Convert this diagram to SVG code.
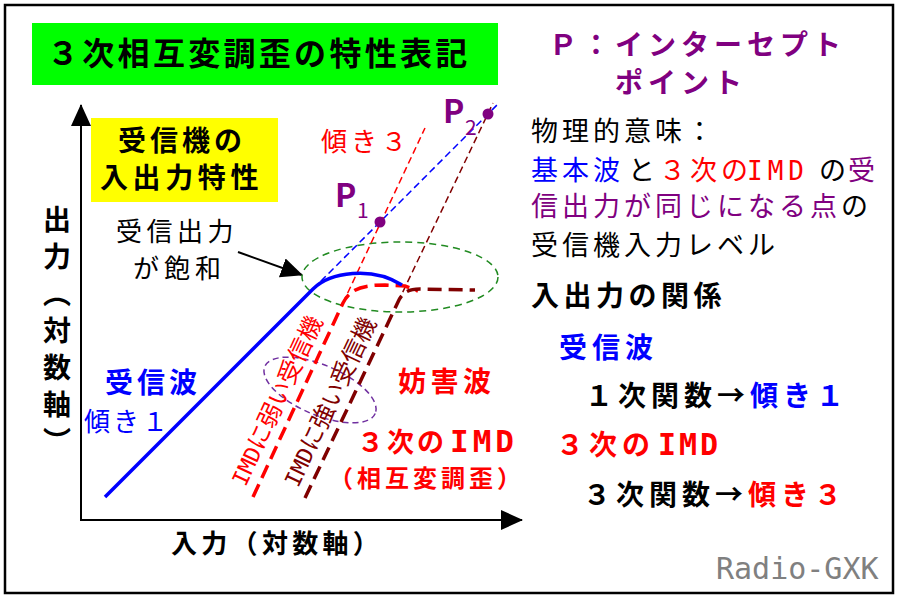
<svg xmlns="http://www.w3.org/2000/svg" width="900" height="600" viewBox="0 0 900 600">
<defs>
<marker id="ah" markerUnits="userSpaceOnUse" markerWidth="22" markerHeight="20" refX="21" refY="10" orient="auto"><path d="M0,0 L22,10 L0,20 Z" fill="#000"/></marker>
</defs>
<style>
text{font-family:"Noto Sans CJK JP","Noto Sans CJK SC",sans-serif;}
.b{font-weight:bold}
.m{font-family:"DejaVu Sans Mono",monospace}
.thin{fill:none;stroke-width:1.5;stroke-dasharray:7 4}
.thick{fill:none;stroke-width:3.5;stroke-dasharray:14 7}
.red{fill:#FF0000}
.blue{fill:#0000FF}
.pur{fill:#800080}
.mar{fill:#800000}
</style>
<rect x="5" y="5" width="888" height="588" fill="#FFFFFF" stroke="#000" stroke-width="2.5"/>

<g id="title">
<rect x="32" y="23" width="466" height="62" fill="#00FF00"/>
<text x="47" y="65" font-size="32" class="b" letter-spacing="3.3">３次相互変調歪の特性表記</text>
</g>

<g id="receiver-box">
<rect x="91" y="118" width="187" height="84" fill="#FFFF00"/>
<text x="118" y="151" font-size="28" class="b" letter-spacing="4">受信機の</text>
<text x="100" y="188" font-size="28" class="b" letter-spacing="4.6">入出力特性</text>
</g>

<g id="connectors">
<line x1="81" y1="521" x2="81" y2="105" stroke="#000" stroke-width="2" marker-end="url(#ah)"/>
<line x1="80" y1="520" x2="522" y2="520" stroke="#000" stroke-width="2" marker-end="url(#ah)"/>
<line x1="238" y1="252" x2="302" y2="275" stroke="#000" stroke-width="2" marker-end="url(#ah)"/>
</g>

<g id="y-axis-label">
<text x="57" y="205" font-size="28" class="b" writing-mode="vertical-rl" letter-spacing="9">出力（対数軸）</text>
</g>
<g id="x-axis-label">
<text x="171" y="553" font-size="26" class="b" letter-spacing="4.3">入力（対数軸）</text>
</g>

<g id="saturation-ellipse">
<ellipse cx="400" cy="277" rx="98" ry="35" fill="none" stroke="#228B22" stroke-width="1.5" stroke-dasharray="7 5"/>
</g>
<g id="imd-ellipse">
<ellipse cx="320" cy="390" rx="60" ry="25" transform="rotate(23 320 390)" fill="none" stroke="#7030A0" stroke-width="1.5" stroke-dasharray="6 4"/>
</g>

<g id="curves">
<path d="M313,289 L497,105" class="thin" stroke="#0000FF"/>
<path d="M343,303 L425,128" class="thin" stroke="#FF0000"/>
<path d="M398,302 L493,103" class="thin" stroke="#800000"/>
<path d="M253,497 L343,303 C350,289 362,285 385,285 L405,286 L418,291" class="thick" stroke="#FF0000"/>
<path d="M305,498 L398,302 C403,291 410,289 420,289 L475,290" class="thick" stroke="#800000"/>
<path d="M105,497 L313,289 C330,272 372,266 402,285" fill="none" stroke="#0000FF" stroke-width="3.5"/>
</g>

<g id="P1">
<circle cx="380" cy="222" r="5.5" fill="#800080"/>
<text x="335" y="207" font-size="32" class="b pur" font-family="Liberation Sans">P</text>
<text x="357" y="218" font-size="21" class="pur" font-family="Liberation Sans">1</text>
</g>
<g id="P2">
<circle cx="488" cy="114" r="5.5" fill="#800080"/>
<text x="443" y="123" font-size="32" class="b pur" font-family="Liberation Sans">P</text>
<text x="465" y="135" font-size="21" class="pur" font-family="Liberation Sans">2</text>
</g>

<g id="saturation-label">
<text x="116" y="241" font-size="26" letter-spacing="4.5">受信出力</text>
<text x="133" y="278" font-size="26" letter-spacing="5">が飽和</text>
</g>
<g id="slope3-label">
<text x="321" y="151" font-size="26" class="red" letter-spacing="4">傾き３</text>
</g>
<g id="signal-label">
<text x="105" y="393" font-size="28" class="b blue" letter-spacing="4">受信波</text>
<text x="84" y="431" font-size="26" class="blue" letter-spacing="3">傾き１</text>
</g>
<g id="interference-label">
<text x="398" y="392" font-size="28" class="b red" letter-spacing="4.5">妨害波</text>
<text x="357" y="452" font-size="27" class="b red" letter-spacing="3">３次の<tspan x="450" class="m" font-size="31" letter-spacing="4">IMD</tspan></text>
<text x="329" y="487" font-size="24" class="b red" letter-spacing="4">（相互変調歪）</text>
</g>
<g id="weak-label">
<text transform="translate(245.5,487.5) rotate(-65)" font-size="24" class="red"><tspan class="m" font-size="22">IMD</tspan>に弱い受信機</text>
</g>
<g id="strong-label">
<text transform="translate(298,488.5) rotate(-64.6)" font-size="24" class="mar"><tspan class="m" font-size="22">IMD</tspan>に強い受信機</text>
</g>

<g id="intercept-note">
<text x="549" y="55" font-size="28" class="b pur" letter-spacing="5">Ｐ：インターセプト</text>
<text x="615" y="93" font-size="28" class="b pur" letter-spacing="5">ポイント</text>
<text x="531" y="141" font-size="27" letter-spacing="4">物理的意味：</text>
<text y="180" font-size="27" letter-spacing="4"><tspan x="531" class="blue">基本波</tspan><tspan x="628">と</tspan><tspan x="659" class="red">３次の</tspan><tspan x="747" class="m red" font-size="26" letter-spacing="5">IMD</tspan><tspan x="809"> の</tspan><tspan x="848" class="pur">受</tspan></text>
<text x="531" y="216" font-size="27" letter-spacing="4"><tspan class="pur">信出力が同じになる点</tspan>の</text>
<text x="531" y="255" font-size="27" letter-spacing="4">受信機入力レベル</text>
</g>

<g id="relation-note">
<text x="531" y="306" font-size="28" class="b" letter-spacing="4.5">入出力の関係</text>
<text x="559" y="358" font-size="28" class="b blue" letter-spacing="5">受信波</text>
<text x="585" y="406" font-size="28" class="b" letter-spacing="5">１次関数→<tspan class="blue">傾き１</tspan></text>
<text x="556" y="455" font-size="28" class="b red" letter-spacing="5">３次の<tspan x="658" class="m" font-size="30" letter-spacing="3">IMD</tspan></text>
<text x="583" y="505" font-size="28" class="b" letter-spacing="5">３次関数→<tspan class="red">傾き３</tspan></text>
</g>

<g id="credit">
<text x="716" y="579" font-size="30" class="m" fill="#808080">Radio-GXK</text>
</g>
</svg>
